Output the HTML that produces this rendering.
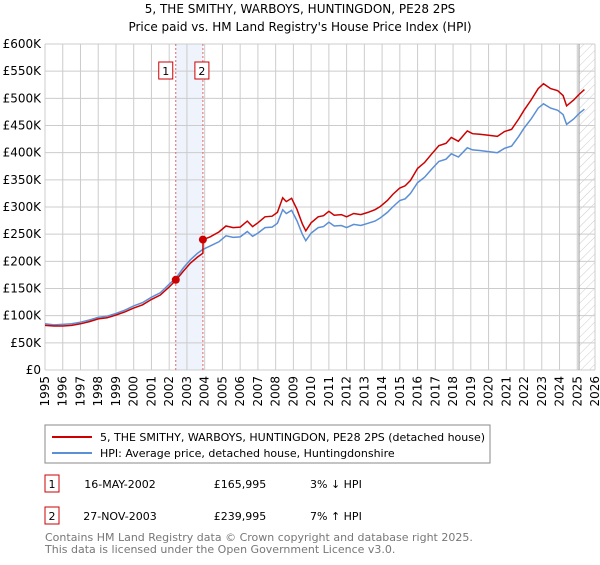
<!DOCTYPE html>
<html><head><meta charset="utf-8"><style>
body{margin:0;background:#fff;font-family:"Liberation Sans","DejaVu Sans",sans-serif;}
svg text{font-family:"DejaVu Sans","Liberation Sans",sans-serif;}
</style></head><body>
<svg id="c" width="600" height="560" viewBox="0 0 600 560" xmlns="http://www.w3.org/2000/svg">
<defs><pattern id="hatch" width="6" height="6" patternUnits="userSpaceOnUse" patternTransform="rotate(45)"><line x1="0" y1="0" x2="0" y2="6" stroke="#ccc" stroke-width="1"/></pattern></defs>
<text x="300" y="13" text-anchor="middle" font-size="12" fill="#000">5, THE SMITHY, WARBOYS, HUNTINGDON, PE28 2PS</text>
<text x="300" y="31" text-anchor="middle" font-size="12" fill="#000">Price paid vs. HM Land Registry's House Price Index (HPI)</text>
<g id="grid"></g><g id="marks"></g><g id="axes"></g>
<rect x="45" y="425" width="445" height="38" fill="#fff" stroke="#888"/>
<line x1="52" y1="437" x2="92" y2="437" stroke="#cc0000" stroke-width="2"/>
<text x="100" y="441" font-size="11">5, THE SMITHY, WARBOYS, HUNTINGDON, PE28 2PS (detached house)</text>
<line x1="52" y1="453" x2="92" y2="453" stroke="#5b8fd6" stroke-width="2"/>
<text x="100" y="457" font-size="11">HPI: Average price, detached house, Huntingdonshire</text>
<g>
<rect x="45" y="475" width="14" height="17" fill="#fff" stroke="#cc0000"/><text x="52" y="488" text-anchor="middle" font-size="11">1</text>
<text x="120" y="488" text-anchor="middle" font-size="11">16-MAY-2002</text>
<text x="240" y="488" text-anchor="middle" font-size="11">£165,995</text>
<text x="310" y="488" font-size="11">3% ↓ HPI</text></g>
<g>
<rect x="45" y="507" width="14" height="17" fill="#fff" stroke="#cc0000"/><text x="52" y="520" text-anchor="middle" font-size="11">2</text>
<text x="120" y="520" text-anchor="middle" font-size="11">27-NOV-2003</text>
<text x="240" y="520" text-anchor="middle" font-size="11">£239,995</text>
<text x="310" y="520" font-size="11">7% ↑ HPI</text></g>
<text x="45" y="541" font-size="11" fill="#777">Contains HM Land Registry data © Crown copyright and database right 2025.</text>
<text x="45" y="553" font-size="11" fill="#777">This data is licensed under the Open Government Licence v3.0.</text>
</svg>
<script>
const yTicks=[0,50000,100000,150000,200000,250000,300000,350000,400000,450000,500000,550000,600000];
const yTickLabels=["£0","£50K","£100K","£150K","£200K","£250K","£300K","£350K","£400K","£450K","£500K","£550K","£600K"];
const years=[1995,1996,1997,1998,1999,2000,2001,2002,2003,2004,2005,2006,2007,2008,2009,2010,2011,2012,2013,2014,2015,2016,2017,2018,2019,2020,2021,2022,2023,2024,2025,2026];
const hpiDates=[1995.0,1995.5,1996.0,1996.5,1997.0,1997.5,1998.0,1998.5,1999.0,1999.5,2000.0,2000.5,2001.0,2001.5,2002.0,2002.4,2002.8,2003.2,2003.6,2003.9,2004.3,2004.8,2005.2,2005.6,2006.0,2006.4,2006.7,2007.0,2007.4,2007.8,2008.1,2008.4,2008.6,2008.9,2009.2,2009.5,2009.7,2010.0,2010.4,2010.7,2011.0,2011.3,2011.7,2012.0,2012.4,2012.8,2013.2,2013.6,2013.9,2014.3,2014.6,2015.0,2015.3,2015.6,2016.0,2016.4,2016.8,2017.2,2017.6,2017.9,2018.3,2018.8,2019.1,2019.5,2020.0,2020.5,2020.9,2021.3,2021.7,2022.0,2022.4,2022.8,2023.1,2023.5,2023.9,2024.2,2024.4,2024.8,2025.1,2025.4];
const hpiValues=[85,83,84,85,88,92,97,99,104,110,118,124,134,142,158,170,188,203,215,222,228,236,247,244,245,255,246,252,262,263,270,295,288,294,275,250,238,252,262,264,272,265,266,262,268,266,270,274,280,290,300,312,315,325,345,355,370,384,388,398,392,409,405,404,402,400,408,412,430,445,462,482,490,482,478,470,452,462,472,480];
const propDates=[1995.0,1995.5,1996.0,1996.5,1997.0,1997.5,1998.0,1998.5,1999.0,1999.5,2000.0,2000.5,2001.0,2001.5,2002.0,2002.4,2002.8,2003.2,2003.6,2003.9,2003.91,2004.3,2004.8,2005.2,2005.6,2006.0,2006.4,2006.7,2007.0,2007.4,2007.8,2008.1,2008.4,2008.6,2008.9,2009.2,2009.5,2009.7,2010.0,2010.4,2010.7,2011.0,2011.3,2011.7,2012.0,2012.4,2012.8,2013.2,2013.6,2013.9,2014.3,2014.6,2015.0,2015.3,2015.6,2016.0,2016.4,2016.8,2017.2,2017.6,2017.9,2018.3,2018.8,2019.1,2019.5,2020.0,2020.5,2020.9,2021.3,2021.7,2022.0,2022.4,2022.8,2023.1,2023.5,2023.9,2024.2,2024.4,2024.8,2025.1,2025.4];
const propValues=[82,81,81,82,85,89,94,96,101,107,114,120,130,138,153,166,182,197,208,215,240,245,254,265,262,263,274,264,271,282,283,290,317,310,316,296,269,256,271,282,284,292,285,286,282,288,286,290,295,301,312,323,335,339,349,371,382,398,413,417,428,421,440,435,434,432,430,439,443,462,478,497,518,527,518,514,505,486,497,507,516];
const saleDates=[2002.37,2003.9];
const salePrices=[165995,239995];
const saleLabels=["1","2"];
const NS="http://www.w3.org/2000/svg";
const X0=45,X1=595,Y0=370,Y1=44;
const xs=t=>X0+(t-1995)/(2026-1995)*(X1-X0);
const ys=v=>Y0-v/600000*(Y0-Y1);
function mk(tag,attrs,parent){const e=document.createElementNS(NS,tag);for(const k in attrs)e.setAttribute(k,attrs[k]);parent.appendChild(e);return e;}
const grid=document.getElementById('grid'),marks=document.getElementById('marks'),axes=document.getElementById('axes');
// shaded band between sales
let band=mk('rect',{x:xs(saleDates[0]),y:Y1,width:xs(saleDates[1])-xs(saleDates[0]),height:Y0-Y1,fill:'#eef3fc'},grid);


yTicks.forEach((v,i)=>{
  let l=mk('line',{x1:X0,x2:X1,y1:ys(v),y2:ys(v),stroke:'#ccc'},grid);
  
  
  let t=mk('text',{x:X0-4,y:ys(v)+4,'text-anchor':'end','font-size':12},axes);
  t.textContent=yTickLabels[i];
  
  
});
years.forEach(yr=>{
  let l=mk('line',{x1:xs(yr),x2:xs(yr),y1:Y1,y2:Y0,stroke:'#ccc'},grid);
  
  
  let t=mk('text',{x:0,y:0,'text-anchor':'end','font-size':12,transform:`translate(${xs(yr)+4},376) rotate(-90)`},axes);
  t.textContent=yr;
  
  
});
// forecast hatch
const hx=xs(2025.1);
let h=mk('rect',{x:hx,y:Y1,width:X1-hx,height:Y0-Y1,fill:'url(#hatch)'},grid);


let hl=mk('line',{x1:hx,x2:hx,y1:Y1,y2:Y0,stroke:'#999','stroke-width':1},grid);


// sale vertical lines and labels
saleDates.forEach((d,i)=>{
  let l=mk('line',{x1:xs(d),x2:xs(d),y1:Y1,y2:Y0,stroke:'#e06666','stroke-dasharray':'2,2'},marks);
  
  
  let bx=xs(d)-(i===0?10:1);
  let r=mk('rect',{x:bx-7,y:62,width:14,height:17,fill:'#fff',stroke:'#cc0000'},marks);
  
  
  let t=mk('text',{x:bx,y:75,'text-anchor':'middle','font-size':11},marks);
  t.textContent=saleLabels[i];
  
  
});
const pathOf=(ds,vs)=>ds.map((d,i)=>(i?'L':'M')+xs(d).toFixed(1)+','+ys(vs[i]*1000).toFixed(1)).join('');
let hp=mk('path',{d:pathOf(hpiDates,hpiValues),fill:'none',stroke:'#5b8fd6','stroke-width':1.5},marks);


let pp=mk('path',{d:pathOf(propDates,propValues),fill:'none',stroke:'#cc0000','stroke-width':1.5},marks);


saleDates.forEach((d,i)=>{
  let c=mk('circle',{cx:xs(d),cy:ys(salePrices[i]),r:4,fill:'#cc0000'},marks);
  
  
});
</script>
</body></html>
